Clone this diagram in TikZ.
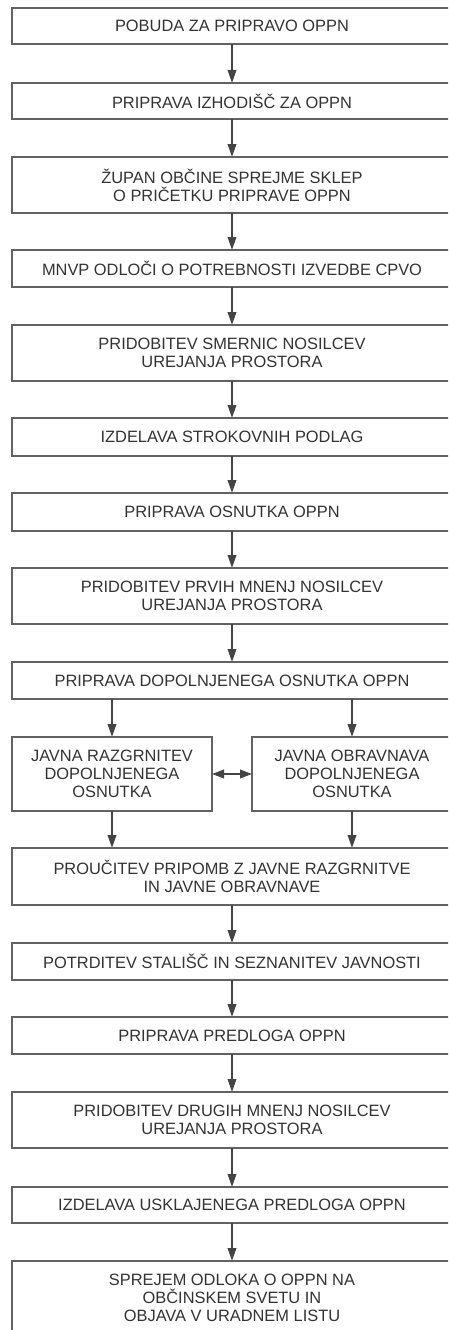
\documentclass[tikz,border=0pt]{standalone}
\usepackage{fontspec}
\setmainfont{Liberation Sans}
\usetikzlibrary{arrows.meta}
\definecolor{ln}{HTML}{626262}
\definecolor{ar}{HTML}{444444}
\definecolor{tx}{HTML}{333333}
\begin{document}
\begin{tikzpicture}[x=1pt,y=-1pt,
  box/.style={draw=ln, line width=1.4pt, fill=white, text=tx, align=center,
    font=\fontsize{16.4}{18}\selectfont, inner sep=0pt, outer sep=0pt,
    minimum width=440pt},
  half/.style={box, minimum width=200pt},
  arr/.style={draw=ar, line width=2pt, -{Triangle[length=13pt,width=8.5pt]}},
  darr/.style={draw=ar, line width=2pt, {Triangle[length=12pt,width=8.5pt]}-{Triangle[length=12pt,width=8.5pt]}}]
\useasboundingbox (0,0) rectangle (448,1330);
\clip (0,0) rectangle (448,1330);
\node[box, minimum height=36pt] (b1) at (232,26) {POBUDA ZA PRIPRAVO OPPN};
\node[box, minimum height=36pt] (b2) at (232,101) {PRIPRAVA IZHODIŠČ ZA OPPN};
\node[box, minimum height=56pt] (b3) at (232,185) {ŽUPAN OBČINE SPREJME SKLEP\\O PRIČETKU PRIPRAVE OPPN};
\node[box, minimum height=37pt] (b4) at (232,268.5) {MNVP ODLOČI O POTREBNOSTI IZVEDBE CPVO};
\node[box, minimum height=56pt] (b5) at (232,353) {PRIDOBITEV SMERNIC NOSILCEV\\UREJANJA PROSTORA};
\node[box, minimum height=38pt] (b6) at (232,437) {IZDELAVA STROKOVNIH PODLAG};
\node[box, minimum height=38pt] (b7) at (232,512) {PRIPRAVA OSNUTKA OPPN};
\node[box, minimum height=56pt] (b8) at (232,596) {PRIDOBITEV PRVIH MNENJ NOSILCEV\\UREJANJA PROSTORA};
\node[box, minimum height=37pt] (b9) at (232,680.5) {PRIPRAVA DOPOLNJENEGA OSNUTKA OPPN};
\node[half, minimum height=74pt] (l) at (112,774) {JAVNA RAZGRNITEV\\DOPOLNJENEGA\\OSNUTKA};
\node[half, minimum height=74pt] (r) at (352,774) {JAVNA OBRAVNAVA\\DOPOLNJENEGA\\OSNUTKA};
\node[box, minimum height=57pt] (b11) at (232,876.5) {PROUČITEV PRIPOMB Z JAVNE RAZGRNITVE\\IN JAVNE OBRAVNAVE};
\node[box, minimum height=37pt] (b12) at (232,961.5) {POTRDITEV STALIŠČ IN SEZNANITEV JAVNOSTI};
\node[box, minimum height=37pt] (b13) at (232,1035.5) {PRIPRAVA PREDLOGA OPPN};
\node[box, minimum height=56pt] (b14) at (232,1120) {PRIDOBITEV DRUGIH MNENJ NOSILCEV\\UREJANJA PROSTORA};
\node[box, minimum height=36pt] (b15) at (232,1205) {IZDELAVA USKLAJENEGA PREDLOGA OPPN};
\node[box, minimum height=74pt] (b16) at (232,1298) {SPREJEM ODLOKA O OPPN NA\\OBČINSKEM SVETU IN\\OBJAVA V URADNEM LISTU};
\draw[arr] (b1) -- (b2);
\draw[arr] (b2) -- (b3);
\draw[arr] (b3) -- (b4);
\draw[arr] (b4) -- (b5);
\draw[arr] (b5) -- (b6);
\draw[arr] (b6) -- (b7);
\draw[arr] (b7) -- (b8);
\draw[arr] (b8) -- (b9);
\draw[arr] (b9.south -| l.north) -- (l.north);
\draw[arr] (b9.south -| r.north) -- (r.north);
\draw[darr] (l.east) -- (r.west);
\draw[arr] (l.south) -- (l.south |- b11.north);
\draw[arr] (r.south) -- (r.south |- b11.north);
\draw[arr] (b11) -- (b12);
\draw[arr] (b12) -- (b13);
\draw[arr] (b13) -- (b14);
\draw[arr] (b14) -- (b15);
\draw[arr] (b15) -- (b16);
\end{tikzpicture}
\end{document}
